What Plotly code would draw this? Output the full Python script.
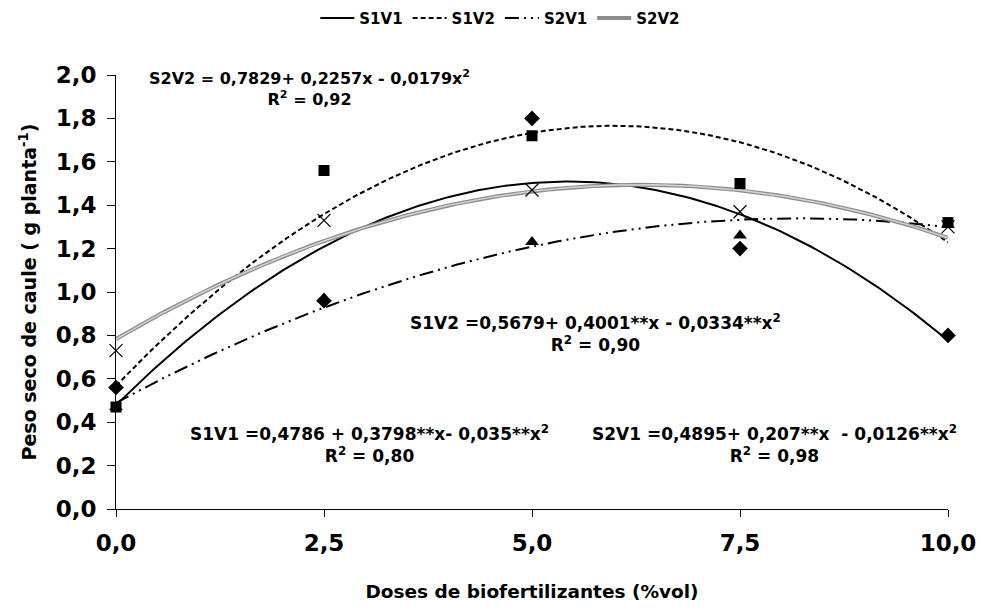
import numpy as np
import plotly.graph_objects as go

# ---- data ----
doses = [0.0, 2.5, 5.0, 7.5, 10.0]
s1v1 = [0.56, 0.96, 1.80, 1.20, 0.80]
s1v2 = [0.47, 1.56, 1.72, 1.50, 1.32]
s2v1 = [0.47, 0.97, 1.23, 1.26, 1.31]
s2v2 = [0.73, 1.33, 1.47, 1.37, 1.30]

# fitted quadratic coefficients (a, b, c) as printed on the chart
coef_s1v1 = [0.4786, 0.3798, -0.035]
coef_s1v2 = [0.5679, 0.4001, -0.0334]
coef_s2v1 = [0.4895, 0.207, -0.0126]
coef_s2v2 = [0.7829, 0.2257, -0.0179]

series_names = ["S1V1", "S1V2", "S2V1", "S2V2"]
x_ticks = [0.0, 2.5, 5.0, 7.5, 10.0]

FONT = "DejaVu Sans"

xs = np.linspace(0, 10, 201)
def curve(c):
    return c[0] + c[1] * xs + c[2] * xs ** 2

fig = go.Figure()

# trend lines (legend items)
fig.add_trace(go.Scatter(x=xs, y=curve(coef_s1v1), mode="lines", name="<b>" + series_names[0] + "</b>",
                         line=dict(color="black", width=2, dash="solid"), cliponaxis=False))
fig.add_trace(go.Scatter(x=xs, y=curve(coef_s1v2), mode="lines", name="<b>" + series_names[1] + "</b>",
                         line=dict(color="black", width=2, dash="5px,3px"), cliponaxis=False))
fig.add_trace(go.Scatter(x=xs, y=curve(coef_s2v1), mode="lines", name="<b>" + series_names[2] + "</b>",
                         line=dict(color="black", width=2, dash="14px,5px,2px,5px,2px,5px"), cliponaxis=False))
fig.add_trace(go.Scatter(x=xs, y=curve(coef_s2v2), mode="lines", name="<b>" + series_names[3] + "</b>",
                         line=dict(color="#8c8c8c", width=4), cliponaxis=False, legendgroup="g4"))
fig.add_trace(go.Scatter(x=xs, y=curve(coef_s2v2), mode="lines", showlegend=False,
                         line=dict(color="#d4d4d4", width=1.5), cliponaxis=False, legendgroup="g4",
                         hoverinfo="skip"))

# observed points
fig.add_trace(go.Scatter(x=doses, y=s2v1, mode="markers", showlegend=False, cliponaxis=False,
                         marker=dict(symbol="triangle-up", size=12, color="black")))
fig.add_trace(go.Scatter(x=doses, y=s1v1, mode="markers", showlegend=False, cliponaxis=False,
                         marker=dict(symbol="diamond", size=12, color="black")))
fig.add_trace(go.Scatter(x=doses, y=s1v2, mode="markers", showlegend=False, cliponaxis=False,
                         marker=dict(symbol="square", size=11, color="black")))
fig.add_trace(go.Scatter(x=doses, y=s2v2, mode="markers", showlegend=False, cliponaxis=False,
                         marker=dict(symbol="x-thin-open", size=13, color="black",
                                     line=dict(color="black", width=1.2))))

annotations = [
    (2.33, 1.94, 16, "<b>S2V2 = 0,7829+ 0,2257x - 0,0179x<sup>2</sup></b><br><b>R<sup>2</sup> = 0,92</b>"),
    (5.76, 0.81, 17, "<b>S1V2 =0,5679+ 0,4001**x - 0,0334**x<sup>2</sup></b><br><b>R<sup>2</sup> = 0,90</b>"),
    (3.05, 0.30, 17, "<b>S1V1 =0,4786 + 0,3798**x- 0,035**x<sup>2</sup></b><br><b>R<sup>2</sup> = 0,80</b>"),
    (7.92, 0.30, 17, "<b>S2V1 =0,4895+ 0,207**x  - 0,0126**x<sup>2</sup></b><br><b>R<sup>2</sup> = 0,98</b>"),
]
for ax_, ay_, fs, txt in annotations:
    fig.add_annotation(x=ax_, y=ay_, xref="x", yref="y", text=txt, showarrow=False,
                       font=dict(family=FONT, size=fs, color="black"),
                       align="center", xanchor="center", yanchor="middle")

fig.update_layout(
    width=981, height=610,
    paper_bgcolor="white", plot_bgcolor="white",
    margin=dict(l=116, r=33, t=75, b=101, autoexpand=False),
    separators=",.",
    font=dict(family=FONT, color="black"),
    showlegend=True,
    legend=dict(orientation="h", x=0.51, xanchor="center", xref="container",
                y=0.97, yanchor="middle", yref="container",
                font=dict(family=FONT, size=15, color="black"),
                itemwidth=34, tracegroupgap=0, bgcolor="rgba(0,0,0,0)"),
)
fig.update_xaxes(range=[0, 10], tickvals=x_ticks, tickformat=".1f", showgrid=False, zeroline=False,
                 showline=True, linecolor="black", linewidth=1, ticks="outside", ticklen=7,
                 tickcolor="black", tickfont=dict(family=FONT, size=23, color="black", weight="bold"),
                 ticklabelstandoff=6, automargin=False,
                 title=dict(text="<b>Doses de biofertilizantes (%vol)</b>",
                            font=dict(family=FONT, size=18.5, color="black"), standoff=30))
fig.update_yaxes(range=[0, 2], dtick=0.2, tickformat=".1f", showgrid=False, zeroline=False,
                 showline=True, linecolor="black", linewidth=1, ticks="outside", ticklen=8,
                 tickcolor="black", tickfont=dict(family=FONT, size=23, color="black", weight="bold"),
                 ticklabelstandoff=6, automargin=False,
                 title=dict(text="<b>Peso seco de caule ( g planta<sup>-1</sup>)</b>",
                            font=dict(family=FONT, size=19, color="black"), standoff=14))

fig.write_html("out.html")
